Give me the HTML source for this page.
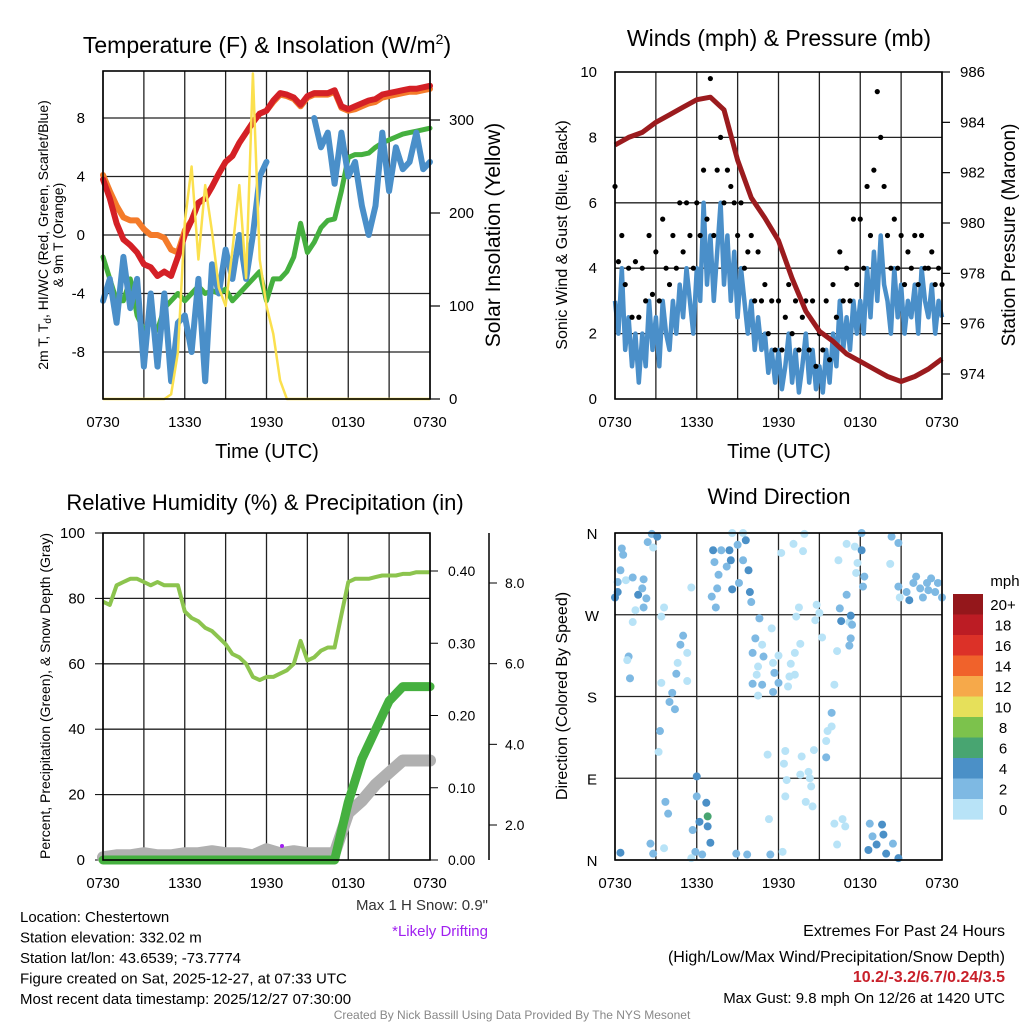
<!DOCTYPE html>
<html><head><meta charset="utf-8"><style>
body{margin:0;background:#fff;}
svg{display:block;font-family:"Liberation Sans",sans-serif;}
</style></head><body>
<svg id="c" width="1024" height="1024" viewBox="0 0 1024 1024" xmlns="http://www.w3.org/2000/svg"></svg>
<script>
// ---------- DATA (0 = 0730 UTC) ----------
const timeLabels = ["0730","1330","1930","0130","0730"];
// half-hour steps
const tempRed = [3.8,2.5,0.8,-0.3,-0.7,-1.2,-2,-2.2,-2.8,-2.5,-2.8,-1.5,0,1,2.2,2.5,3.3,4.2,5,5.4,6.3,7,7.7,8.3,8.5,9.2,9.7,9.6,9.4,8.9,9.5,9.7,9.7,9.7,9.9,8.8,8.6,8.8,9,9.2,9.3,9.6,9.7,9.8,9.9,10,10,10.1,10.2];
const tempOrange = [4.1,3,2,1.2,1,1,0.4,0,0,-0.2,-1,-1.2,0.3,1,2.2,2.5,3.3,4.2,5,5.4,6.3,7,7.7,8.3,8.5,9.1,9.6,9.5,9.3,8.8,9.4,9.6,9.6,9.6,9.8,8.7,8.5,8.6,8.8,9,9.1,9.4,9.5,9.6,9.7,9.8,9.8,9.9,10];
const tempGreen = [-1.5,-3,-4.5,-4.5,-3,-5.5,-6.5,-6,-6.5,-5,-4.5,-4,-4.5,-4,-3.5,-4,-3.8,-4,-3.7,-4.5,-4,-3.5,-3,-2.5,-4.5,-3,-3,-2.5,-1.5,0.8,-1.2,-0.5,0.5,1,1.1,3,5.3,5.5,5.5,5.6,6,6.3,6.5,6.7,6.9,7,7.1,7.2,7.3];
const tempBlue = [-4.5,-3,-6,-1.5,-5,-3,-9,-4,-9,-4,-10,-6,-5.5,-8,-3,-10,-2,-4,-1,-3,0,-3,0,4,5,null,null,null,null,null,null,8,6,7,3.5,7,4,5,2,0,2,7,3,6,4.5,5,7,4.5,5];
const insolation = [0,0,0,0,0,0,0,0,0,0,5,50,190,250,150,230,180,120,100,160,230,130,350,150,100,70,20,0,0,0,0,0,0,0,0,0,0,0,0,0,0,0,0,0,0,0,0,0,0];
// quarter-hour steps
const windSpeed = [3,2,4,1.5, 2.5,1,2,0.5, 2,1,3,1.5, 2.5,1,3,2, 1.5,3,2,3.5, 2.5,4,3,2, 4,3,6,3.5, 5,3,4.5,6, 3.5,5,3,4.5, 2.5,4,3,2, 3,1.5,2.5,1.5, 2,0.8,1.5,0.5, 1.5,0.3,1,2, 0.5,1.5,0.2,1, 2,0.5,1.5,0.3, 1,0.2,1.5,0.5, 2,1,3,1.5, 2.5,1.5,3,2, 3,2,4,2.5, 4.5,3,5,3.5, 3,2,4,2.5, 3.5,2,3,2.5, 3.5,2,4,3, 2.5,3.5,2,3,2.5];
const windGust = [6.5,4.2,5,3.5, 4,2.5,4.2,2.5, 4,3,5,3.2, 4.5,3,5.5,4, 3.5,5,4,6, 4.5,6,5,4, 6,5,7,5.5, 9.8,5,7,8, 6,7,6.5,6, 5,6,4,4.5, 5,3,4.5,3, 3.5,2,3,1.5, 3,1.5,2.5,3.5, 2,3,1.5,2.5, 3,1.5,3,1, 2,1.5,3,1.2, 3.5,2.5,4.5,3, 4,3,5.5,3.5, 5.5,4,6.5,5, 7,9.4,8,6.5, 5,4,5.5,4, 5,3.5,4.5,4, 5,3.5,5,4, 4,4.5,3.5,4,3.5];
// hourly
const pressure = [983.1,983.4,983.6,984,984.3,984.6,984.9,985,984.5,982.5,981,980.2,979.3,977.8,976.5,975.7,975.3,974.8,974.5,974.2,973.9,973.7,973.9,974.2,974.6];
// half-hour
const relHum = [79,78,84,85,86,86,85,84,85,84,84,84,76,74,73,71,70,68,66,63,62,60,56,55,56,56,57,58,60,67,61,62,64,65,65,75,85,86,86,86,86.5,87,87,87,87.5,87.5,88,88,88];
// hourly
const precip = [0,0,0,0,0,0,0,0,0,0,0,0,0,0,0,0,0,0,0.08,0.14,0.18,0.22,0.24,0.24,0.24];
const snowDepth = [1.2,1.25,1.25,1.3,1.25,1.25,1.3,1.3,1.35,1.3,1.3,1.25,1.4,1.3,1.35,1.3,1.3,1.3,2.3,2.6,3.0,3.3,3.6,3.6,3.6];
const dirHours = [0,0.2,0.2,0.4,0.6,0.5,0.8,1.3,1.5,1.3,1.0,0.9,1.1,1.7,2.0,2.1,2.3,2.1,2.4,2.7,3.1,2.8,3.6,3.4,3.4,3.3,3.2,3.7,3.9,2.6,2.8,0.4,3.6,5.0,4.8,5.3,4.6,4.5,5.3,4.2,4.4,4.0,6.0,6.0,6.7,6.8,6.2,6.8,5.7,7.0,5.9,6.4,5.6,7.2,7.3,7.6,7.8,8.2,8.4,8.5,9.0,9.4,8.6,9.6,9.4,9.8,9.1,8.6,7.5,7.1,7.4,9.9,10.0,5.6,8.9,9.7,11.4,12.3,10.6,10.3,10.8,10.1,10.9,10.5,10.4,10.1,10.8,10.5,11.5,11.6,11.7,12.0,11.6,12.0,12.8,12.7,13.2,12.9,13.2,13.6,13.3,13.5,13.1,13.8,13.9,12.2,11.2,12.5,12.4,12.6,12.5,11.3,13.7,13.6,14.2,14.3,14.4,14.0,14.5,14.6,14.8,14.7,15.0,15.2,16.3,16.1,15.5,15.6,15.9,15.9,15.5,16.5,16.6,17.2,17.4,17.3,17.2,17.0,17.3,16.4,17.0,17.6,17.8,17.7,18.1,18.1,18.3,18.2,16.1,16.3,16.7,16.9,18.7,18.9,19.2,19.6,19.7,18.6,19.9,20.4,20.8,20.2,20.3,20.8,20.9,20.8,21.6,21.9,22.1,22.4,22.6,23.0,23.2,23.5,23.7,24.0,21.4,22.9];
const dirDegrees = [289,295,306,319,336,343,308,311,275,262,224,220,200,292,299,309,288,278,350,359,356,344,278,268,195,142,119,64,51,18,7,8,13,247,237,228,217,205,197,184,166,174,92,70,63,48,42,37,33,19,9,6,2,341,328,314,341,323,341,330,347,360,360,352,330,319,305,298,299,290,278,295,284,300,7,6,6,9,266,244,237,228,224,213,204,194,193,181,255,217,206,195,185,225,202,191,204,216,228,238,268,278,348,340,359,338,116,120,106,88,70,45,114,94,97,90,81,64,59,121,281,264,272,245,230,193,131,142,147,162,113,277,263,262,259,244,236,292,269,330,348,345,327,316,341,360,312,301,40,17,45,37,40,26,17,39,28,11,7,18,2,326,356,349,289,301,286,305,312,299,289,297,310,295,305,289,295,305];
const dirSpeeds = [5,5,3,3,3,3,1,3,1,1,3,1,3,5,3,3,3,3,3,3,5,1,1,1,1,3,1,3,3,3,3,5,1,3,3,1,1,3,1,3,3,3,5,3,5,7,5,5,3,5,3,3,1,5,3,3,3,3,5,5,3,1,1,5,3,5,3,5,3,3,3,5,3,1,3,3,3,1,3,3,1,3,3,1,1,3,3,1,1,1,3,3,3,1,1,1,1,1,1,1,1,1,1,1,1,1,1,1,1,1,1,1,1,1,1,1,1,1,1,1,1,1,1,1,1,1,1,1,1,3,3,3,5,1,3,3,3,3,5,1,1,1,1,1,5,3,3,3,1,1,1,1,3,3,5,5,5,5,5,3,5,1,3,3,1,3,5,3,3,3,3,3,3,3,3,3,3,3,3,3];
const speedBandLabels = ["20+","18","16","14","12","10","8","6","4","2","0"];
const speedBandColors = ["#94171b","#bc1c24","#dc3128","#f0622b","#f6a94a","#e6e05a","#7cc24c","#48a571","#4b90c7","#7eb9e3","#b8e3f7"];

// ---------- HELPERS ----------
const NS="http://www.w3.org/2000/svg";
const svg=document.getElementById('c');
function mk(tag,attrs,parent){const e=document.createElementNS(NS,tag);for(const k in attrs)e.setAttribute(k,attrs[k]);(parent||svg).appendChild(e);return e;}
function txt(x,y,s,size,anchor,parent,extra){const e=mk('text',Object.assign({x:x,y:y,'font-size':size,'text-anchor':anchor||'middle',fill:'#000'},extra||{}),parent);e.textContent=s;return e;}
const P1={x:103,y:71,w:327,h:328}, P2={x:615,y:72,w:327,h:327}, P3={x:103,y:533,w:327,h:327}, P4={x:615,y:533,w:327,h:327};
function xs(P,t){return P.x+t/24*P.w;}
function lin(v0,v1,p0,p1){return v=>p0+(v-v0)/(v1-v0)*(p1-p0);}
function pathFrom(P,arr,step,ys){let d='',pen=false;arr.forEach((v,i)=>{if(v===null){pen=false;return;}const X=xs(P,i*step),Y=ys(v);d+=(pen?'L':'M')+X.toFixed(1)+' '+Y.toFixed(1);pen=true;});return d;}
function frame(P,g){
  for(let k=0;k<=8;k++){const X=xs(P,k*3);const l=mk('line',{x1:X,y1:P.y,x2:X,y2:P.y+P.h,stroke:'#222','stroke-width':1.3},g);}
  timeLabels.forEach((s,k)=>{const t=txt(xs(P,k*6),P.y+P.h+28,s,15,'middle',g);});
}
function hgrid(P,g,ys,vals){vals.forEach(v=>{const l=mk('line',{x1:P.x,y1:ys(v),x2:P.x+P.w,y2:ys(v),stroke:'#222','stroke-width':1.3},g);});}
function border(P,g){const r=mk('rect',{x:P.x,y:P.y,width:P.w,height:P.h,fill:'none',stroke:'#000','stroke-width':1.6},g);}
function band(s){return Math.min(10,Math.floor(s/2));}

// ---------- PANEL 1 ----------
const g1=mk('g',{});


const yT=lin(8,-8,118,352), yI=lin(0,300,399,120);
frame(P1,g1); hgrid(P1,g1,yT,[8,4,0,-4,-8]);
[8,4,0,-4,-8].forEach(v=>{const t=txt(85,yT(v)+5,String(v),15,'end',g1);});
[0,100,200,300].forEach(v=>{const l=mk('line',{x1:P1.x+P1.w,y1:yI(v),x2:P1.x+P1.w+10,y2:yI(v),stroke:'#000','stroke-width':1.2},g1);const t=txt(449,yI(v)+5,String(v),15,'start',g1);});
const sOr=mk('path',{d:pathFrom(P1,tempOrange,0.5,yT),fill:'none',stroke:'#f47b2a','stroke-width':6,'stroke-linejoin':'round','stroke-linecap':'round'},g1);


const sRed=mk('path',{d:pathFrom(P1,tempRed,0.5,yT),fill:'none',stroke:'#d42026','stroke-width':6,'stroke-linejoin':'round','stroke-linecap':'round'},g1);


const sGr=mk('path',{d:pathFrom(P1,tempGreen,0.5,yT),fill:'none',stroke:'#45b03f','stroke-width':5,'stroke-linejoin':'round','stroke-linecap':'round'},g1);


const sBl=mk('path',{d:pathFrom(P1,tempBlue,0.5,yT),fill:'none',stroke:'#4a8fc9','stroke-width':6,'stroke-linejoin':'round','stroke-linecap':'round'},g1);


const sY=mk('path',{d:pathFrom(P1,insolation,0.5,yI),fill:'none',stroke:'#fbe04e','stroke-width':2.5,'stroke-linejoin':'round'},g1);


border(P1,g1);
let e;
e=txt(267,53,'Temperature (F) & Insolation (W/m',23,'middle',g1);
const sup=mk('tspan',{'font-size':14,dy:-9},e);sup.textContent='2';
const cls=mk('tspan',{'font-size':23,dy:9},e);cls.textContent=')';
e=txt(267,458,'Time (UTC)',20,'middle',g1);
e=txt(0,0,'Solar Insolation (Yellow)',21,'middle',g1,{transform:'translate(500,235) rotate(-90)'});
e=txt(0,0,'2m T, T',14,'middle',g1,{transform:'translate(48,235) rotate(-90)'});
let ts=mk('tspan',{'font-size':10,dy:3},e);ts.textContent='d';
ts=mk('tspan',{dy:-3},e);ts.textContent=', HI/WC (Red, Green, Scarlet/Blue)';
e=txt(0,0,'& 9m T (Orange)',14,'middle',g1,{transform:'translate(63,235) rotate(-90)'});

// ---------- PANEL 2 ----------
const g2=mk('g',{});


const yW=lin(0,10,399,72), yP=lin(974,986,374,72);
frame(P2,g2); hgrid(P2,g2,yW,[2,4,6,8]);
[0,2,4,6,8,10].forEach(v=>{const t=txt(597,yW(v)+5,String(v),15,'end',g2);});
[974,976,978,980,982,984,986].forEach(v=>{const l=mk('line',{x1:P2.x+P2.w,y1:yP(v),x2:P2.x+P2.w+8,y2:yP(v),stroke:'#000','stroke-width':1.2},g2);const t=txt(960,yP(v)+5,String(v),15,'start',g2);});
const wl=mk('path',{d:pathFrom(P2,windSpeed,0.25,yW),fill:'none',stroke:'#4a8fc9','stroke-width':4.5,'stroke-linejoin':'round'},g2);


windGust.forEach((v,i)=>{const c=mk('circle',{cx:xs(P2,i*0.25),cy:yW(v),r:2.6,fill:'#000'},g2);});
const pl=mk('path',{d:pathFrom(P2,pressure,1,yP),fill:'none',stroke:'#9b1b1e','stroke-width':5,'stroke-linejoin':'round'},g2);


border(P2,g2);
e=txt(779,46,'Winds (mph) & Pressure (mb)',23,'middle',g2);
e=txt(779,458,'Time (UTC)',20,'middle',g2);
e=txt(0,0,'Sonic Wind & Gust (Blue, Black)',16,'middle',g2,{transform:'translate(567,235) rotate(-90)'});
e=txt(0,0,'Station Pressure (Maroon)',19,'middle',g2,{transform:'translate(1015,235) rotate(-90)'});

// ---------- PANEL 3 ----------
const g3=mk('g',{});


const yR=lin(0,100,860,533), yPr=lin(0,0.4,860,571), yS=lin(2,8,825,583);
frame(P3,g3); hgrid(P3,g3,yR,[20,40,60,80]);
[0,20,40,60,80,100].forEach(v=>{const l=mk('line',{x1:P3.x-8,y1:yR(v),x2:P3.x,y2:yR(v),stroke:'#000'},g3);const t=txt(85,yR(v)+5,String(v),15,'end',g3);});
[0,0.1,0.2,0.3,0.4].forEach(v=>{const l=mk('line',{x1:430,y1:yPr(v),x2:438,y2:yPr(v),stroke:'#000'},g3);const t=txt(448,yPr(v)+5,v.toFixed(2),14,'start',g3);});
e=mk('line',{x1:489,y1:533,x2:489,y2:860,stroke:'#000','stroke-width':1.5},g3);
[2,4,6,8].forEach(v=>{const l=mk('line',{x1:489,y1:yS(v),x2:497,y2:yS(v),stroke:'#000'},g3);const t=txt(505,yS(v)+5,v.toFixed(1),14,'start',g3);});
const rh=mk('path',{d:pathFrom(P3,relHum,0.5,yR),fill:'none',stroke:'#8cc44e','stroke-width':4,'stroke-linejoin':'round'},g3);


const sn=mk('path',{d:pathFrom(P3,snowDepth,1,yS),fill:'none',stroke:'#b0b0b0','stroke-width':12,'stroke-linejoin':'round','stroke-linecap':'round'},g3);


const pr=mk('path',{d:pathFrom(P3,precip,1,yPr),fill:'none',stroke:'#45b03f','stroke-width':9,'stroke-linejoin':'round','stroke-linecap':'round'},g3);


e=mk('circle',{cx:282,cy:846,r:2,fill:'#a020f0'},g3);
border(P3,g3);
e=txt(265,510,'Relative Humidity (%) & Precipitation (in)',22,'middle',g3);
e=txt(0,0,'Percent, Precipitation (Green), & Snow Depth (Gray)',14,'middle',g3,{transform:'translate(50,696) rotate(-90)'});

// ---------- PANEL 4 ----------
const g4=mk('g',{});


const yD=lin(0,360,860,533);
frame(P4,g4); hgrid(P4,g4,yD,[0,90,180,270,360]);
[['N',0],['E',90],['S',180],['W',270],['N',360]].forEach(p=>{const t=txt(592,yD(p[1])+6,p[0],15,'middle',g4);});
dirHours.forEach((h,i)=>{const c=mk('circle',{cx:xs(P4,h),cy:yD(dirDegrees[i]),r:4,fill:speedBandColors[10-band(dirSpeeds[i])]},g4);});
border(P4,g4);
speedBandLabels.forEach((s,k)=>{const r=mk('rect',{x:953,y:594+k*20.5,width:30,height:20.6,fill:speedBandColors[k]},g4);const t=txt(1003,594+k*20.5+16,s,15,'middle',g4);});
e=txt(1005,586,'mph',15,'middle',g4);
e=txt(779,504,'Wind Direction',22,'middle',g4);
e=txt(0,0,'Direction (Colored By Speed)',16,'middle',g4,{transform:'translate(567,696) rotate(-90)'});

// ---------- FOOTER TEXT ----------
const g5=mk('g',{});


["Location: Chestertown","Station elevation: 332.02 m","Station lat/lon: 43.6539; -73.7774","Figure created on Sat, 2025-12-27, at 07:33 UTC","Most recent data timestamp: 2025/12/27 07:30:00"].forEach((s,k)=>{const t=txt(20,922+k*20.5,s,15,'start',g5);});
e=txt(488,910,'Max 1 H Snow: 0.9"',15,'end',g5,{fill:'#333'});
e=txt(488,936,'*Likely Drifting',15,'end',g5,{fill:'#a020f0'});
e=txt(1005,936,'Extremes For Past 24 Hours',16,'end',g5);
e=txt(1005,962,'(High/Low/Max Wind/Precipitation/Snow Depth)',16,'end',g5);
e=txt(1005,982,'10.2/-3.2/6.7/0.24/3.5',16,'end',g5,{fill:'#c8202a','font-weight':'bold'});
e=txt(1005,1003,'Max Gust: 9.8 mph On 12/26 at 1420 UTC',15,'end',g5);
e=txt(512,1019,'Created By Nick Bassill Using Data Provided By The NYS Mesonet',12,'middle',g5,{fill:'#888'});
</script>
</body></html>
